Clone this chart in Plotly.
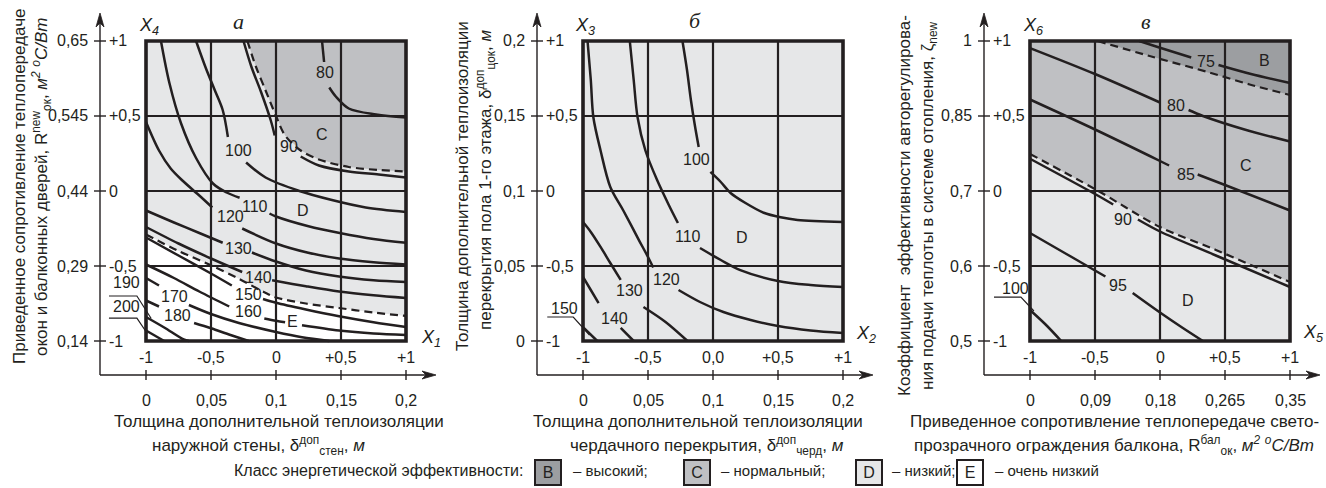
import plotly.graph_objects as go

W, H = 1326, 488
FONT = "Liberation Sans, Arial, sans-serif"
SERIF = "Liberation Serif, Times New Roman, serif"
INK = "#231f20"
COL_B = "#9c9ea1"
COL_C = "#bfc0c3"
COL_D = "#e6e7e8"
COL_E = "#ffffff"

# ---------------- tick labels ----------------
coded_ticks = [-1, -0.5, 0, 0.5, 1]
coded_x_text_a = ['-1', '-0,5', '0', '+0,5', '+1']
coded_x_text_b = ['-1', '-0,5', '0,0', '+0,5', '+1']
coded_x_text_c = ['-1', '-0,5', '0', '+0,5', '+1']
coded_y_text = ['-1', '-0,5', '0', '+0,5', '+1']

a_x_nat = ['0', '0,05', '0,1', '0,15', '0,2']
a_y_nat = ['0,14', '0,29', '0,44', '0,545', '0,65']
b_x_nat = ['0', '0,05', '0,1', '0,15', '0,2']
b_y_nat = ['0', '0,05', '0,1', '0,15', '0,2']
c_x_nat = ['0', '0,09', '0,18', '0,265', '0,35']
c_y_nat = ['0,5', '0,6', '0,7', '0,85', '1']

# ---------------- panel а: isolines (coded X1, X4); None = label gap ----------------
a_80 = [(0.354, 1.0), (0.37, 0.86), None, (0.41, 0.69), (0.46, 0.63), (0.56, 0.55), (0.77, 0.51), (1.0, 0.49)]
a_90 = [(-0.25, 1.0), (-0.19, 0.83), (-0.115, 0.66), (-0.04, 0.47), (-0.01, 0.37), None,
        (0.19, 0.23), (0.33, 0.17), (0.56, 0.13), (0.79, 0.11), (1.0, 0.09)]
a_100 = [(-0.615, 1.0), (-0.54, 0.82), (-0.47, 0.67), (-0.41, 0.54), (-0.37, 0.36), None,
         (-0.23, 0.19), (-0.08, 0.09), (0.18, 0.0), (0.43, -0.06), (0.69, -0.11), (1.0, -0.14)]
a_110 = [(-0.885, 1.0), (-0.82, 0.72), (-0.73, 0.45), (-0.615, 0.22), (-0.485, 0.05), (-0.38, -0.01),
         (-0.28, -0.045), None, (-0.05, -0.15), (0.0, -0.17), (0.25, -0.235), (0.49, -0.28), (0.75, -0.32), (1.0, -0.345)]
a_120 = [(-1.0, 0.46), (-0.9, 0.27), (-0.81, 0.15), (-0.72, 0.07), (-0.59, -0.03), (-0.49, -0.11), None,
         (-0.26, -0.25), (0.0, -0.35), (0.24, -0.41), (0.485, -0.45), (0.75, -0.475), (1.0, -0.49)]
a_130 = [(-1.0, -0.13), (-0.785, -0.21), (-0.59, -0.28), (-0.41, -0.345), None,
         (-0.185, -0.41), (0.0, -0.47), (0.23, -0.53), (0.485, -0.57), (0.75, -0.595), (1.0, -0.607)]
a_140 = [(-1.0, -0.24), (-0.75, -0.35), (-0.5, -0.45), (-0.26, -0.54), None,
         (-0.03, -0.595), (0.23, -0.635), (0.485, -0.67), (0.75, -0.695), (1.0, -0.713)]
a_150 = [(-1.0, -0.31), (-0.75, -0.43), (-0.5, -0.55), (-0.34, -0.63), None,
         (-0.10, -0.72), (0.0, -0.745), (0.23, -0.79), (0.485, -0.835), (0.75, -0.875), (1.0, -0.907)]
a_160 = [(-1.0, -0.49), (-0.785, -0.58), (-0.59, -0.67), (-0.36, -0.77), None,
         (-0.09, -0.85), (0.0, -0.865), (0.07, -0.875), None,
         (0.2, -0.895), (0.485, -0.93), (0.75, -0.95), (1.0, -0.96)]
a_170 = [(-1.0, -0.58), (-0.9, -0.63), None, (-0.67, -0.76), (-0.5, -0.82), (-0.285, -0.88),
         (0.0, -0.94), (0.2, -0.975), (0.41, -1.0)]
a_180 = [(-1.0, -0.73), (-0.9, -0.77), None, (-0.63, -0.88), (-0.5, -0.915), (-0.35, -0.96), (-0.21, -1.0)]
a_190 = [(-1.0, -0.84), (-0.86, -0.91), (-0.71, -0.99), (-0.67, -1.0)]
a_200 = [(-1.0, -0.93), (-0.9, -0.98), (-0.86, -1.0)]
a_bound_CD = [(-0.22, 1.0), (-0.155, 0.83), (-0.08, 0.67), (0.0, 0.50), (0.07, 0.37), (0.19, 0.27),
              (0.33, 0.21), (0.56, 0.16), (0.79, 0.14), (1.0, 0.13)]
a_bound_DE = [(-1.0, -0.29), (-0.75, -0.40), (-0.5, -0.495), (-0.285, -0.585), (-0.09, -0.675),
              (0.0, -0.71), (0.23, -0.75), (0.485, -0.78), (0.75, -0.81), (1.0, -0.833)]
a_lead_190 = [(-1.285, -0.70), (-1.07, -0.70), (-0.96, -0.85)]
a_lead_200 = [(-1.285, -0.847), (-1.07, -0.847), (-0.99, -0.95)]
a_iso_labels = [('80', 0.377, 0.793), ('90', 0.10, 0.30), ('100', -0.29, 0.27), ('110', -0.16, -0.10),
                ('120', -0.35, -0.17), ('130', -0.285, -0.38), ('140', -0.135, -0.575), ('150', -0.215, -0.69),
                ('160', -0.215, -0.80), ('170', -0.78, -0.70), ('180', -0.755, -0.83),
                ('190', -1.15, -0.61), ('200', -1.15, -0.77)]
a_class_labels = [('C', 0.35, 0.38), ('D', 0.21, -0.127), ('E', 0.13, -0.87)]

# ---------------- panel б: isolines (coded X2, X3) ----------------
b_100 = [(-0.235, 1.0), (-0.2, 0.807), (-0.17, 0.607), (-0.14, 0.44), (-0.11, 0.293), None,
         (-0.02, 0.127), (0.06, 0.06), (0.135, -0.013), (0.25, -0.08), (0.39, -0.145), (0.52, -0.175),
         (0.65, -0.193), (1.0, -0.207)]
b_110 = [(-0.64, 1.0), (-0.61, 0.74), (-0.58, 0.49), (-0.52, 0.27), (-0.43, 0.073), (-0.34, -0.093),
         (-0.27, -0.213), None, (-0.1, -0.38), (0.06, -0.46), (0.21, -0.527), (0.5, -0.6), (0.75, -0.627), (1.0, -0.64)]
b_120 = [(-0.965, 1.0), (-0.94, 0.74), (-0.92, 0.49), (-0.865, 0.27), (-0.79, 0.027), (-0.69, -0.13),
         (-0.57, -0.327), (-0.5, -0.44), (-0.46, -0.51), None, (-0.265, -0.66), (-0.1, -0.74),
         (0.08, -0.807), (0.29, -0.86), (0.5, -0.9), (0.75, -0.93), (1.0, -0.947)]
b_130 = [(-1.0, -0.207), (-0.94, -0.273), (-0.865, -0.373), (-0.79, -0.48), (-0.71, -0.593), None,
         (-0.535, -0.773), (-0.365, -0.873), (-0.196, -1.0)]
b_140 = [(-1.0, -0.573), (-0.94, -0.66), (-0.88, -0.747), None, (-0.71, -0.913), (-0.61, -1.0)]
b_150 = [(-1.0, -0.907), (-0.89, -1.0)]
b_lead_150 = [(-1.275, -0.84), (-1.075, -0.84), (-0.95, -0.96)]
b_iso_labels = [('100', -0.13, 0.207), ('110', -0.19, -0.30), ('120', -0.36, -0.593),
                ('130', -0.64, -0.66), ('140', -0.76, -0.847), ('150', -1.14, -0.78)]
b_class_labels = [('D', 0.223, -0.307)]

# ---------------- panel в: isolines (coded X5, X6) ----------------
c_75 = [(-0.16, 1.0), (0.0, 0.955), (0.24, 0.89), None, (0.45, 0.84), (0.7, 0.78), (1.0, 0.72)]
c_80 = [(-1.0, 0.953), (-0.5, 0.78), (0.0, 0.59), None, (0.22, 0.54), (0.33, 0.5), (0.65, 0.41), (1.0, 0.33)]
c_85 = [(-1.0, 0.61), (-0.5, 0.41), (0.0, 0.2), (0.07, 0.17), None, (0.29, 0.11), (0.5, 0.04), (1.0, -0.13)]
c_90 = [(-1.0, 0.215), (-0.5, -0.02), (-0.36, -0.09), None, (-0.17, -0.19), (0.0, -0.27), (0.43, -0.43), (1.0, -0.64)]
c_95 = [(-1.0, -0.28), (-0.72, -0.42), (-0.5, -0.53), (-0.42, -0.57), None,
        (-0.21, -0.68), (0.0, -0.81), (0.17, -0.91), (0.33, -1.0)]
c_100 = [(-1.0, -0.793), (-0.88, -0.89), (-0.76, -1.0)]
c_bound_BC = [(-0.48, 1.0), (-0.08, 0.9), (0.38, 0.79), (0.69, 0.71), (1.0, 0.64)]
c_bound_CD = [(-1.0, 0.247), (-0.5, 0.013), (0.0, -0.24), (0.43, -0.393), (1.0, -0.607)]
c_lead_100 = [(-1.277, -0.707), (-1.07, -0.707), (-0.97, -0.80)]
c_iso_labels = [('75', 0.354, 0.86), ('80', 0.123, 0.567), ('85', 0.2, 0.113), ('90', -0.285, -0.193),
                ('95', -0.323, -0.627), ('100', -1.115, -0.653)]
c_class_labels = [('B', 0.8, 0.867), ('C', 0.66, 0.173), ('D', 0.215, -0.727)]

# ---------------- geometry ----------------
UX, UY = 130.0, 150.0          # px per coded unit
CY = 191                        # px of coded 0 (vertical)
PAD_L, PAD_R = 60, 36
TOP, BOT = 5, 390
XR = [-1 - PAD_L / UX, 1 + PAD_R / UX]
YR = [-(BOT - CY) / UY, (CY - TOP) / UY]
AX_X = -1 - 46 / UX             # vertical arrow axis position
AX_Y = -(375 - CY) / UY         # horizontal arrow axis position
TIP_X = 1 + 30 / UX
TIP_Y = (CY - 13) / UY
FS = 16      # tick / label font
FT = 17      # axis-title font


def xy(pts):
    xs, ys = [], []
    for p in pts:
        if p is None:
            xs.append(None); ys.append(None)
        else:
            xs.append(p[0]); ys.append(p[1])
    return xs, ys


def P(px, py):
    return px / W, 1 - py / H


fig = go.Figure()
shapes, annos = [], []

panels = [
    dict(L=146, s='', iso=[a_80, a_90, a_100, a_110, a_120, a_130, a_140, a_150, a_160, a_170, a_180, a_190, a_200],
         dashed=[a_bound_CD, a_bound_DE], leads=[a_lead_190, a_lead_200],
         fills=[(a_bound_CD + [(1.0, 1.0)], COL_C), (a_bound_DE + [(1.0, -1.0), (-1.0, -1.0)], COL_E)],
         isolab=a_iso_labels, clslab=a_class_labels, xnat=a_x_nat, ynat=a_y_nat, xcod=coded_x_text_a),
    dict(L=583, s='2', iso=[b_100, b_110, b_120, b_130, b_140, b_150], dashed=[], leads=[b_lead_150],
         fills=[], isolab=b_iso_labels, clslab=b_class_labels, xnat=b_x_nat, ynat=b_y_nat, xcod=coded_x_text_b),
    dict(L=1030, s='3', iso=[c_75, c_80, c_85, c_90, c_95, c_100], dashed=[c_bound_BC, c_bound_CD], leads=[c_lead_100],
         fills=[(c_bound_CD + [(1.0, 1.0), (-1.0, 1.0)], COL_C), (c_bound_BC + [(1.0, 1.0)], COL_B)],
         isolab=c_iso_labels, clslab=c_class_labels, xnat=c_x_nat, ynat=c_y_nat, xcod=coded_x_text_c),
]

layout_axes = {}
for pn in panels:
    s = pn['s']
    L = pn['L']
    xa, ya = 'x' + s, 'y' + s
    layout_axes['xaxis' + s] = dict(domain=[(L - PAD_L) / W, min(1.0, (L + 260 + PAD_R) / W)], range=XR,
                                    visible=False, fixedrange=True, anchor=ya)
    layout_axes['yaxis' + s] = dict(domain=[1 - BOT / H, 1 - TOP / H], range=YR,
                                    visible=False, fixedrange=True, anchor=xa)
    shapes.append(dict(type='rect', xref=xa, yref=ya, x0=-1, x1=1, y0=-1, y1=1,
                       fillcolor=COL_D, line=dict(width=0), layer='below'))
    for poly, col in pn['fills']:
        px_, py_ = xy(poly)
        fig.add_trace(go.Scatter(x=px_, y=py_, xaxis=xa, yaxis=ya, mode='lines', fill='toself',
                                 fillcolor=col, line=dict(width=0, color=col), hoverinfo='skip', showlegend=False))
    for c in pn['iso']:
        cx_, cy_ = xy(c)
        fig.add_trace(go.Scatter(x=cx_, y=cy_, xaxis=xa, yaxis=ya, mode='lines',
                                 line=dict(color=INK, width=2.5, shape='spline', smoothing=0.9),
                                 connectgaps=False, hoverinfo='skip', showlegend=False))
    for c in pn['dashed']:
        cx_, cy_ = xy(c)
        fig.add_trace(go.Scatter(x=cx_, y=cy_, xaxis=xa, yaxis=ya, mode='lines',
                                 line=dict(color=INK, width=2.2, dash='8px,5px', shape='spline', smoothing=0.9),
                                 hoverinfo='skip', showlegend=False))
    for c in pn['leads']:
        cx_, cy_ = xy(c)
        fig.add_trace(go.Scatter(x=cx_, y=cy_, xaxis=xa, yaxis=ya, mode='lines',
                                 line=dict(color=INK, width=1.2), hoverinfo='skip', showlegend=False))
    for v in [-0.5, 0, 0.5]:
        shapes.append(dict(type='line', xref=xa, yref=ya, x0=v, x1=v, y0=-1, y1=1,
                           line=dict(color=INK, width=2.2), layer='above'))
        shapes.append(dict(type='line', xref=xa, yref=ya, x0=-1, x1=1, y0=v, y1=v,
                           line=dict(color=INK, width=2.2), layer='above'))
    shapes.append(dict(type='rect', xref=xa, yref=ya, x0=-1, x1=1, y0=-1, y1=1,
                       line=dict(color=INK, width=3.6), layer='above'))
    shapes.append(dict(type='line', xref=xa, yref=ya, x0=AX_X, x1=TIP_X - 4 / UX, y0=AX_Y, y1=AX_Y,
                       line=dict(color=INK, width=1.4)))
    shapes.append(dict(type='line', xref=xa, yref=ya, x0=AX_X, x1=AX_X, y0=AX_Y, y1=TIP_Y - 4 / UY,
                       line=dict(color=INK, width=1.4)))
    hx = f"M{TIP_X},{AX_Y} L{TIP_X - 14 / UX},{AX_Y + 4 / UY} L{TIP_X - 10 / UX},{AX_Y} L{TIP_X - 14 / UX},{AX_Y - 4 / UY} Z"
    hy = f"M{AX_X},{TIP_Y} L{AX_X - 4 / UX},{TIP_Y - 14 / UY} L{AX_X},{TIP_Y - 10 / UY} L{AX_X + 4 / UX},{TIP_Y - 14 / UY} Z"
    for pth in (hx, hy):
        shapes.append(dict(type='path', xref=xa, yref=ya, path=pth, fillcolor=INK, line=dict(color=INK, width=0.8)))
    for v in coded_ticks:
        shapes.append(dict(type='line', xref=xa, yref=ya, x0=v, x1=v, y0=AX_Y - 5 / UY, y1=AX_Y + 5 / UY,
                           line=dict(color=INK, width=1.4)))
        shapes.append(dict(type='line', xref=xa, yref=ya, x0=AX_X - 6 / UX, x1=AX_X + 6 / UX, y0=v, y1=v,
                           line=dict(color=INK, width=1.4)))
    for v, nat, cod in zip(coded_ticks, pn['xnat'], pn['xcod']):
        annos.append(dict(xref=xa, yref=ya, x=v, y=AX_Y, yshift=-25, text=nat, showarrow=False,
                          xanchor='center', yanchor='middle', font=dict(size=FS, family=FONT, color=INK)))
        annos.append(dict(xref=xa, yref=ya, x=v, y=AX_Y, yshift=18, text=cod, showarrow=False,
                          xanchor='center', yanchor='middle', font=dict(size=FS, family=FONT, color=INK)))
    for v, nat, cod in zip(coded_ticks, pn['ynat'], coded_y_text):
        annos.append(dict(xref=xa, yref=ya, x=AX_X, y=v, xshift=-10, xanchor='right', yanchor='middle',
                          text=nat, showarrow=False, font=dict(size=FS, family=FONT, color=INK)))
        annos.append(dict(xref=xa, yref=ya, x=AX_X, y=v, xshift=7, xanchor='left', yanchor='middle',
                          text=cod, showarrow=False, font=dict(size=FS, family=FONT, color=INK)))
    for t, x, y in pn['isolab'] + pn['clslab']:
        annos.append(dict(xref=xa, yref=ya, x=x, y=y, text=t, showarrow=False, xanchor='center', yanchor='middle',
                          borderpad=0, font=dict(size=FS, family=FONT, color=INK)))


def txt(px, py, text, size=FT, angle=0, family=FONT, xanchor='center'):
    x, y = P(px, py)
    annos.append(dict(xref='paper', yref='paper', x=x, y=y, text=text, showarrow=False, textangle=angle,
                      xanchor=xanchor, yanchor='middle', font=dict(size=size, family=family, color=INK)))


# axis titles
txt(19, 187, "Приведенное сопротивление теплопередаче", angle=-90)
txt(41, 187, "окон и балконных дверей, R<sup>new</sup><sub>ок</sub>, <i>м<sup>2</sup> <sup>o</sup>C/Вт</i>", angle=-90)
txt(463, 186, "Толщина дополнительной теплоизоляции", angle=-90)
txt(485, 180, "перекрытия пола 1-го этажа, δ<sup>доп</sup><sub>цок</sub>, <i>м</i>", angle=-90)
txt(904, 206, "Коэффициент  эффективности авторегулирова-", angle=-90)
txt(929, 206, "ния подачи теплоты в системе отопления, ζ<sub>new</sub>", angle=-90)

txt(279, 421, "Толщина дополнительной теплоизоляции")
txt(258, 445, "наружной стены, δ<sup>доп</sup><sub>стен</sub>, <i>м</i>")
txt(698, 421, "Толщина дополнительной теплоизоляции")
txt(707, 445, "чердачного перекрытия, δ<sup>доп</sup><sub>черд</sub>, <i>м</i>")
txt(1114, 421, "Приведенное сопротивление теплопередаче свето-")
txt(1114, 445, "прозрачного ограждения балкона, R<sup>бал</sup><sub>ок</sub>, <i>м<sup>2</sup> <sup>o</sup>C/Вт</i>")

# panel letters and factor names
txt(238, 21, "<i>а</i>", size=22, family=SERIF)
txt(695, 20, "<i>б</i>", size=22, family=SERIF)
txt(1146, 21, "<i>в</i>", size=22, family=SERIF)
txt(149, 27, "<i>X<sub>4</sub></i>", size=18)
txt(431, 338, "<i>X<sub>1</sub></i>", size=18)
txt(585, 27, "<i>X<sub>3</sub></i>", size=18)
txt(866, 334, "<i>X<sub>2</sub></i>", size=18)
txt(1033, 27, "<i>X<sub>6</sub></i>", size=18)
txt(1313, 333, "<i>X<sub>5</sub></i>", size=18)

# legend
legend_classes = ['B', 'C', 'D', 'E']
legend_names = ['– высокий;', '– нормальный;', '– низкий;', '– очень низкий']
legend_colors = [COL_B, COL_C, COL_D, COL_E]
legend_box_px = [548, 697, 869, 970]
legend_text_px = [571, 719, 890, 993]
txt(525, 470, "Класс энергетической эффективности:", size=FS, xanchor='right')
for cls, name, col, bx, tx in zip(legend_classes, legend_names, legend_colors, legend_box_px, legend_text_px):
    x, y = P(bx, 472)
    annos.append(dict(xref='paper', yref='paper', x=x, y=y, text=cls, showarrow=False,
                      xanchor='center', yanchor='middle',
                      bgcolor=col, bordercolor=INK, borderwidth=2, borderpad=1, width=22, height=21,
                      font=dict(size=FS, family=FONT, color=INK)))
    txt(tx, 470, name, size=15, xanchor='left')

fig.update_layout(width=W, height=H, margin=dict(l=0, r=0, t=0, b=0),
                  paper_bgcolor='white', plot_bgcolor='rgba(0,0,0,0)',
                  shapes=shapes, annotations=annos, showlegend=False,
                  font=dict(family=FONT, color=INK), **layout_axes)

fig.write_html("out.html", config={'displayModeBar': False},
               post_script="document.body.style.margin='0px';document.body.style.overflow='hidden';")
